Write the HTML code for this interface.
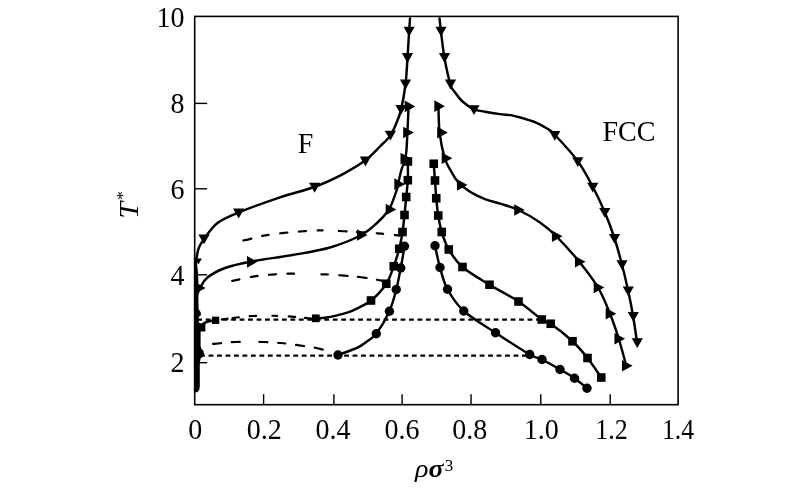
<!DOCTYPE html>
<html><head><meta charset="utf-8"><title>Phase diagram</title>
<style>
html,body{margin:0;padding:0;background:#fff;}
body{width:800px;height:493px;overflow:hidden;}
svg{display:block;will-change:transform;}
text{fill:#000;}
</style></head>
<body>
<svg width="800" height="493" viewBox="0 0 800 493">
<rect width="800" height="493" fill="#fff"/>
<rect x="194.7" y="16.4" width="483.4" height="388.3" fill="none" stroke="#000" stroke-width="1.6"/>
<line x1="194.7" y1="103.4" x2="207.2" y2="103.4" stroke="#000" stroke-width="1.4"/>
<line x1="194.7" y1="188.8" x2="207.2" y2="188.8" stroke="#000" stroke-width="1.4"/>
<line x1="194.7" y1="274.8" x2="207.2" y2="274.8" stroke="#000" stroke-width="1.4"/>
<line x1="194.7" y1="362.7" x2="207.2" y2="362.7" stroke="#000" stroke-width="1.4"/>
<line x1="263.6" y1="404.7" x2="263.6" y2="394.2" stroke="#000" stroke-width="1.4"/>
<line x1="333.9" y1="404.7" x2="333.9" y2="394.2" stroke="#000" stroke-width="1.4"/>
<line x1="402.1" y1="404.7" x2="402.1" y2="394.2" stroke="#000" stroke-width="1.4"/>
<line x1="471.05" y1="404.7" x2="471.05" y2="394.2" stroke="#000" stroke-width="1.4"/>
<line x1="540.75" y1="404.7" x2="540.75" y2="394.2" stroke="#000" stroke-width="1.4"/>
<line x1="610.2" y1="404.7" x2="610.2" y2="394.2" stroke="#000" stroke-width="1.4"/>
<line x1="197.25" y1="319.6" x2="540.5" y2="319.6" stroke="#000" stroke-width="2.2" stroke-dasharray="4.8 3.67"/>
<line x1="200.13" y1="355.6" x2="528" y2="355.6" stroke="#000" stroke-width="2.2" stroke-dasharray="4.8 3.67"/>
<path d="M243.40,240.42L243.42,240.41L244.74,240.20L246.21,239.93L247.80,239.60L249.50,239.18L251.32,238.68L251.40,238.66M262.20,235.96L262.46,235.92L265.31,235.41L268.30,234.90L268.60,234.85M280.20,233.27L280.49,233.23L284.60,232.80L287.40,232.53M298.90,231.54L299.67,231.48L305.18,231.08L306.10,231.02M317.70,230.43L318.22,230.42L322.60,230.36M338.80,230.96L339.31,230.99L343.46,231.24L346.60,231.41M356.90,231.98L357.15,231.99L362.43,232.31L364.10,232.41M376.70,233.27L377.44,233.33L381.68,233.68L383.10,233.80M394.90,235.07L395.17,235.10L398.23,235.46L399.60,235.62" fill="none" stroke="#000" stroke-width="2.2" stroke-linecap="round" stroke-linejoin="round"/>
<path d="M232.20,280.91L232.47,280.86L236.08,280.07L239.40,279.35M250.90,277.01L251.44,276.91L254.88,276.33L257.60,275.93M268.90,274.79L269.17,274.77L271.88,274.57L274.55,274.36L276.10,274.24M287.40,273.72L287.59,273.72L291.27,273.70L294.10,273.71M321.40,274.28L322.13,274.30L326.28,274.45L327.90,274.51M339.20,275.25L339.21,275.25L341.70,275.45L344.44,275.67L347.28,275.90L347.60,275.93M357.90,276.86L358.26,276.90L361.10,277.22L363.92,277.59L366.60,277.98M376.90,279.72L377.02,279.74L379.42,280.21L381.42,280.64L383.07,281.06L384.10,281.38" fill="none" stroke="#000" stroke-width="2.2" stroke-linecap="round" stroke-linejoin="round"/>
<path d="M221.90,319.41L222.13,319.38L223.72,319.17L225.25,318.97L226.73,318.77L227.60,318.65M232.60,317.99L232.78,317.97L234.65,317.75L236.71,317.52L238.90,317.27M249.70,316.20L250.12,316.17L253.00,316.00L256.08,315.88L256.10,315.88M272.40,315.76L272.46,315.76L275.48,315.81L277.10,315.85M288.70,316.46L288.74,316.46L291.18,316.64L293.69,316.83L295.10,316.95M304.90,317.89L305.10,317.91L307.12,318.11L308.79,318.28L310.14,318.41L311.10,318.50" fill="none" stroke="#000" stroke-width="2.2" stroke-linecap="round" stroke-linejoin="round"/>
<path d="M213.10,343.93L213.19,343.92L214.48,343.81L216.07,343.68L218.02,343.51L220.30,343.28L221.10,343.19M231.80,342.21L232.02,342.20L235.42,342.02L239.09,341.92L239.80,341.90M259.40,341.92L259.70,341.93L263.40,342.00L266.64,342.09L267.40,342.12M278.10,342.77L278.19,342.78L280.80,343.01L283.53,343.28L285.30,343.48M296.00,344.92L296.31,344.96L299.08,345.36L301.87,345.77L304.00,346.06M314.70,347.67L314.78,347.68L317.44,348.21L319.95,348.82L322.50,349.57L322.70,349.64" fill="none" stroke="#000" stroke-width="2.2" stroke-linecap="round" stroke-linejoin="round"/>
<path d="M410.00,18.50C409.85,20.70 409.52,25.12 409.10,31.70C408.68,38.28 408.10,49.20 407.50,58.00C406.90,66.80 406.58,75.85 405.50,84.50C404.42,93.15 402.58,103.32 401.00,109.90C399.42,116.48 397.77,119.72 396.00,124.00C394.23,128.28 393.07,131.85 390.40,135.60C387.73,139.35 384.23,142.33 380.00,146.50C375.77,150.67 371.25,155.97 365.00,160.60C358.75,165.23 350.96,169.90 342.50,174.30C334.04,178.70 324.67,183.17 314.25,187.00C303.83,190.83 292.67,193.03 280.00,197.30C267.33,201.57 248.67,208.32 238.25,212.60C227.83,216.88 223.16,218.67 217.50,223.00C211.84,227.33 207.50,234.22 204.30,238.60C201.10,242.98 199.72,244.90 198.30,249.30C196.88,253.70 196.22,262.38 195.80,265.00" fill="none" stroke="#000" stroke-width="2.45" stroke-linecap="round" stroke-linejoin="round"/>
<path d="M403.50,26.80L414.70,26.80L409.10,36.60Z" fill="#000"/>
<path d="M401.90,53.10L413.10,53.10L407.50,62.90Z" fill="#000"/>
<path d="M399.90,79.60L411.10,79.60L405.50,89.40Z" fill="#000"/>
<path d="M395.40,105.00L406.60,105.00L401.00,114.80Z" fill="#000"/>
<path d="M384.80,130.70L396.00,130.70L390.40,140.50Z" fill="#000"/>
<path d="M359.80,156.60L371.00,156.60L365.40,166.40Z" fill="#000"/>
<path d="M309.05,182.85L320.25,182.85L314.65,192.65Z" fill="#000"/>
<path d="M233.05,208.60L244.25,208.60L238.65,218.40Z" fill="#000"/>
<path d="M198.40,234.40L209.60,234.40L204.00,244.20Z" fill="#000"/>
<path d="M195.14,258.56L201.86,258.56L198.50,264.44Z" fill="#000"/>
<path d="M439.50,18.50C439.75,20.70 440.17,25.12 441.00,31.70C441.83,38.28 442.92,49.20 444.50,58.00C446.08,66.80 448.75,78.78 450.50,84.50C452.25,90.22 453.00,89.47 455.00,92.30C457.00,95.13 459.33,98.67 462.50,101.50C465.67,104.33 470.25,107.60 474.00,109.30C477.75,111.00 480.67,110.90 485.00,111.70C489.33,112.50 495.50,113.48 500.00,114.10C504.50,114.72 508.23,114.72 512.00,115.40C515.77,116.08 518.60,117.00 522.60,118.20C526.60,119.40 531.93,120.88 536.00,122.60C540.07,124.32 543.92,126.52 547.00,128.50C550.08,130.48 549.42,129.12 554.50,134.50C559.58,139.88 571.17,152.12 577.50,160.75C583.83,169.38 588.00,177.79 592.50,186.25C597.00,194.71 600.88,202.96 604.50,211.50C608.12,220.04 611.38,228.79 614.25,237.50C617.12,246.21 619.46,255.00 621.75,263.75C624.04,272.50 626.12,281.38 628.00,290.00C629.88,298.62 631.50,306.88 633.00,315.50C634.50,324.12 636.33,337.38 637.00,341.75" fill="none" stroke="#000" stroke-width="2.45" stroke-linecap="round" stroke-linejoin="round"/>
<path d="M435.40,26.80L446.60,26.80L441.00,36.60Z" fill="#000"/>
<path d="M438.90,53.10L450.10,53.10L444.50,62.90Z" fill="#000"/>
<path d="M444.90,79.60L456.10,79.60L450.50,89.40Z" fill="#000"/>
<path d="M468.40,105.30L479.60,105.30L474.00,115.10Z" fill="#000"/>
<path d="M549.20,131.00L560.40,131.00L554.80,140.80Z" fill="#000"/>
<path d="M572.20,157.25L583.40,157.25L577.80,167.05Z" fill="#000"/>
<path d="M587.20,182.75L598.40,182.75L592.80,192.55Z" fill="#000"/>
<path d="M599.20,208.00L610.40,208.00L604.80,217.80Z" fill="#000"/>
<path d="M608.95,234.00L620.15,234.00L614.55,243.80Z" fill="#000"/>
<path d="M616.45,260.25L627.65,260.25L622.05,270.05Z" fill="#000"/>
<path d="M622.70,286.50L633.90,286.50L628.30,296.30Z" fill="#000"/>
<path d="M627.70,312.00L638.90,312.00L633.30,321.80Z" fill="#000"/>
<path d="M631.70,338.25L642.90,338.25L637.30,348.05Z" fill="#000"/>
<path d="M408.60,106.40C408.40,110.75 407.78,124.90 407.40,132.50C407.02,140.10 406.78,147.25 406.30,152.00C405.82,156.75 405.32,158.00 404.50,161.00C403.68,164.00 402.43,166.38 401.40,170.00C400.37,173.62 399.03,179.53 398.30,182.70C397.57,185.87 397.95,185.85 397.00,189.00C396.05,192.15 394.10,197.93 392.60,201.60C391.10,205.27 390.52,207.52 388.00,211.00C385.48,214.48 381.96,218.50 377.50,222.50C373.04,226.50 369.17,230.83 361.25,235.00C353.33,239.17 341.46,244.17 330.00,247.50C318.54,250.83 305.62,252.67 292.50,255.00C279.38,257.33 262.50,259.33 251.25,261.50C240.00,263.67 232.29,265.33 225.00,268.00C217.71,270.67 211.62,274.25 207.50,277.50C203.38,280.75 202.13,284.42 200.30,287.50C198.47,290.58 197.13,294.58 196.50,296.00" fill="none" stroke="#000" stroke-width="2.45" stroke-linecap="round" stroke-linejoin="round"/>
<path d="M404.70,100.55L415.30,106.40L404.70,112.25Z" fill="#000"/>
<path d="M403.20,126.65L413.80,132.50L403.20,138.35Z" fill="#000"/>
<path d="M394.30,178.35L404.90,184.20L394.30,190.05Z" fill="#000"/>
<path d="M385.70,203.65L396.30,209.50L385.70,215.35Z" fill="#000"/>
<path d="M356.95,229.15L367.55,235.00L356.95,240.85Z" fill="#000"/>
<path d="M247.00,255.95L257.60,261.80L247.00,267.65Z" fill="#000"/>
<path d="M195.00,282.05L205.60,287.90L195.00,293.75Z" fill="#000"/>
<path d="M194.82,309.69L201.18,313.20L194.82,316.71Z" fill="#000"/>
<path d="M400.50,152.75L411.10,158.60L400.50,164.45Z" fill="#000"/>
<path d="M438.40,104.00C438.60,108.77 438.53,123.56 439.60,132.60C440.67,141.64 442.90,151.85 444.80,158.25C446.70,164.65 448.80,167.04 451.00,171.00C453.20,174.96 454.83,178.53 458.00,182.00C461.17,185.47 465.50,188.93 470.00,191.80C474.50,194.67 480.00,197.23 485.00,199.20C490.00,201.17 494.42,201.80 500.00,203.60C505.58,205.40 511.83,206.85 518.50,210.00C525.17,213.15 533.71,218.12 540.00,222.50C546.29,226.88 549.71,229.71 556.25,236.25C562.79,242.79 572.29,253.21 579.25,261.75C586.21,270.29 592.88,278.83 598.00,287.50C603.12,296.17 606.54,305.21 610.00,313.75C613.46,322.29 616.04,330.08 618.75,338.75C621.46,347.42 625.00,361.25 626.25,365.75" fill="none" stroke="#000" stroke-width="2.45" stroke-linecap="round" stroke-linejoin="round"/>
<path d="M434.30,100.35L444.90,106.20L434.30,112.05Z" fill="#000"/>
<path d="M437.20,126.75L447.80,132.60L437.20,138.45Z" fill="#000"/>
<path d="M441.70,152.40L452.30,158.25L441.70,164.10Z" fill="#000"/>
<path d="M456.95,179.15L467.55,185.00L456.95,190.85Z" fill="#000"/>
<path d="M514.20,204.15L524.80,210.00L514.20,215.85Z" fill="#000"/>
<path d="M551.95,230.40L562.55,236.25L551.95,242.10Z" fill="#000"/>
<path d="M574.95,255.90L585.55,261.75L574.95,267.60Z" fill="#000"/>
<path d="M593.70,281.65L604.30,287.50L593.70,293.35Z" fill="#000"/>
<path d="M605.70,307.90L616.30,313.75L605.70,319.60Z" fill="#000"/>
<path d="M614.45,332.90L625.05,338.75L614.45,344.60Z" fill="#000"/>
<path d="M621.95,359.90L632.55,365.75L621.95,371.60Z" fill="#000"/>
<path d="M407.90,161.50C407.88,164.62 408.08,174.28 407.80,180.20C407.52,186.12 406.75,191.20 406.20,197.00C405.65,202.80 405.12,209.17 404.50,215.00C403.88,220.83 403.38,226.38 402.50,232.00C401.62,237.62 400.71,243.04 399.25,248.75C397.79,254.46 395.92,260.42 393.75,266.25C391.58,272.08 390.04,278.04 386.25,283.75C382.46,289.46 376.71,295.99 371.00,300.50C365.29,305.01 357.83,308.28 352.00,310.80C346.17,313.32 340.50,314.43 336.00,315.60C331.50,316.77 328.29,317.33 325.00,317.80C321.71,318.27 317.71,318.30 316.25,318.40" fill="none" stroke="#000" stroke-width="2.45" stroke-linecap="round" stroke-linejoin="round"/>
<rect x="403.60" y="157.20" width="8.60" height="8.60" fill="#000"/>
<rect x="403.50" y="175.90" width="8.60" height="8.60" fill="#000"/>
<rect x="401.90" y="192.70" width="8.60" height="8.60" fill="#000"/>
<rect x="400.20" y="210.70" width="8.60" height="8.60" fill="#000"/>
<rect x="398.20" y="227.70" width="8.60" height="8.60" fill="#000"/>
<rect x="394.95" y="244.45" width="8.60" height="8.60" fill="#000"/>
<rect x="389.45" y="261.95" width="8.60" height="8.60" fill="#000"/>
<rect x="381.95" y="279.45" width="8.60" height="8.60" fill="#000"/>
<rect x="366.70" y="296.20" width="8.60" height="8.60" fill="#000"/>
<rect x="311.93" y="314.43" width="7.74" height="7.74" fill="#000"/>
<path d="M215.75,320.30C214.46,320.50 210.12,320.88 208.00,321.50C205.88,322.12 204.12,323.02 203.00,324.00C201.88,324.98 202.13,325.73 201.30,327.40C200.47,329.07 198.55,332.90 198.00,334.00" fill="none" stroke="#000" stroke-width="2.45" stroke-linecap="round" stroke-linejoin="round"/>
<rect x="211.94" y="316.65" width="7.31" height="7.31" fill="#000"/>
<rect x="197.22" y="323.31" width="8.17" height="8.17" fill="#000"/>
<path d="M433.75,163.75C433.96,166.54 434.58,174.75 435.00,180.50C435.42,186.25 435.71,192.42 436.25,198.25C436.79,204.08 437.33,209.88 438.25,215.50C439.17,221.12 440.00,226.33 441.75,232.00C443.50,237.67 445.29,243.67 448.75,249.50C452.21,255.33 455.71,261.12 462.50,267.00C469.29,272.88 480.17,279.00 489.50,284.75C498.83,290.50 509.79,295.71 518.50,301.50C527.21,307.29 536.38,315.79 541.75,319.50C547.12,323.21 545.62,320.12 550.75,323.75C555.88,327.38 566.38,335.54 572.50,341.25C578.62,346.96 582.71,351.96 587.50,358.00C592.29,364.04 598.96,374.25 601.25,377.50" fill="none" stroke="#000" stroke-width="2.45" stroke-linecap="round" stroke-linejoin="round"/>
<rect x="429.45" y="159.45" width="8.60" height="8.60" fill="#000"/>
<rect x="430.70" y="176.20" width="8.60" height="8.60" fill="#000"/>
<rect x="431.95" y="193.95" width="8.60" height="8.60" fill="#000"/>
<rect x="433.95" y="211.20" width="8.60" height="8.60" fill="#000"/>
<rect x="437.45" y="227.70" width="8.60" height="8.60" fill="#000"/>
<rect x="444.45" y="245.20" width="8.60" height="8.60" fill="#000"/>
<rect x="458.20" y="262.70" width="8.60" height="8.60" fill="#000"/>
<rect x="485.20" y="280.45" width="8.60" height="8.60" fill="#000"/>
<rect x="514.20" y="297.20" width="8.60" height="8.60" fill="#000"/>
<rect x="537.45" y="315.20" width="8.60" height="8.60" fill="#000"/>
<rect x="546.45" y="319.45" width="8.60" height="8.60" fill="#000"/>
<rect x="568.20" y="336.95" width="8.60" height="8.60" fill="#000"/>
<rect x="583.20" y="353.70" width="8.60" height="8.60" fill="#000"/>
<rect x="596.95" y="373.20" width="8.60" height="8.60" fill="#000"/>
<path d="M404.50,246.25C403.88,249.88 402.12,260.79 400.75,268.00C399.38,275.21 398.14,282.30 396.25,289.50C394.36,296.70 392.73,303.82 389.40,311.20C386.07,318.57 380.07,328.67 376.25,333.75C372.43,338.83 369.54,339.44 366.50,341.70C363.46,343.96 362.75,345.08 358.00,347.30C353.25,349.52 341.33,353.72 338.00,355.00" fill="none" stroke="#000" stroke-width="2.45" stroke-linecap="round" stroke-linejoin="round"/>
<circle cx="404.50" cy="246.25" r="4.70" fill="#000"/>
<circle cx="400.75" cy="268.00" r="4.70" fill="#000"/>
<circle cx="396.25" cy="289.50" r="4.70" fill="#000"/>
<circle cx="389.40" cy="311.20" r="4.70" fill="#000"/>
<circle cx="376.25" cy="333.75" r="4.70" fill="#000"/>
<circle cx="338.00" cy="355.00" r="4.70" fill="#000"/>
<path d="M435.00,245.75C435.83,249.38 437.92,260.25 440.00,267.50C442.08,274.75 443.54,282.00 447.50,289.25C451.46,296.50 455.75,303.76 463.75,311.00C471.75,318.24 484.51,325.45 495.50,332.70C506.49,339.95 521.95,350.03 529.70,354.50C537.45,358.97 536.95,357.00 542.00,359.50C547.05,362.00 554.58,366.38 560.00,369.50C565.42,372.62 570.00,375.12 574.50,378.25C579.00,381.38 584.92,386.58 587.00,388.25" fill="none" stroke="#000" stroke-width="2.45" stroke-linecap="round" stroke-linejoin="round"/>
<circle cx="435.00" cy="245.75" r="4.70" fill="#000"/>
<circle cx="440.00" cy="267.50" r="4.70" fill="#000"/>
<circle cx="447.50" cy="289.25" r="4.70" fill="#000"/>
<circle cx="463.75" cy="311.00" r="4.70" fill="#000"/>
<circle cx="495.50" cy="332.70" r="4.70" fill="#000"/>
<circle cx="529.70" cy="354.50" r="4.70" fill="#000"/>
<circle cx="542.00" cy="359.50" r="4.70" fill="#000"/>
<circle cx="560.00" cy="369.50" r="4.70" fill="#000"/>
<circle cx="574.50" cy="378.25" r="4.70" fill="#000"/>
<circle cx="587.00" cy="388.25" r="4.70" fill="#000"/>
<path d="M193.90,255.00L195.60,257.00L197.00,264.00L198.00,272.00L198.40,283.00L198.40,300.00L198.60,309.00L200.50,312.00L201.00,315.00L198.80,317.00L198.80,322.00L200.60,324.00L200.60,346.00L201.50,349.00L203.50,351.00L204.00,354.00L202.50,357.00L200.50,358.50L199.80,364.00L199.80,386.00L199.40,389.50L197.50,392.30L193.90,392.30Z" fill="#000"/>
<text transform="translate(184.6,27.0) scale(1,1.07)" font-family="Liberation Serif, serif" font-size="28" text-anchor="end">10</text>
<text transform="translate(184.6,113.0) scale(1,1.07)" font-family="Liberation Serif, serif" font-size="28" text-anchor="end">8</text>
<text transform="translate(184.6,198.6) scale(1,1.07)" font-family="Liberation Serif, serif" font-size="28" text-anchor="end">6</text>
<text transform="translate(184.6,285.0) scale(1,1.07)" font-family="Liberation Serif, serif" font-size="28" text-anchor="end">4</text>
<text transform="translate(184.6,371.6) scale(1,1.07)" font-family="Liberation Serif, serif" font-size="28" text-anchor="end">2</text>
<text transform="translate(195.2,438.6) scale(1,1.07)" font-family="Liberation Serif, serif" font-size="28" text-anchor="middle">0</text>
<text transform="translate(264.2,438.6) scale(1,1.07)" font-family="Liberation Serif, serif" font-size="28" text-anchor="middle">0.2</text>
<text transform="translate(333,438.6) scale(1,1.07)" font-family="Liberation Serif, serif" font-size="28" text-anchor="middle">0.4</text>
<text transform="translate(402,438.6) scale(1,1.07)" font-family="Liberation Serif, serif" font-size="28" text-anchor="middle">0.6</text>
<text transform="translate(469.8,438.6) scale(1,1.07)" font-family="Liberation Serif, serif" font-size="28" text-anchor="middle">0.8</text>
<text transform="translate(541.2,438.6) scale(1,1.07)" font-family="Liberation Serif, serif" font-size="28" text-anchor="middle">1.0</text>
<text transform="translate(611.4,438.6) scale(0.93,1.07)" font-family="Liberation Serif, serif" font-size="28" text-anchor="middle">1.2</text>
<text transform="translate(678.0,438.6) scale(0.92,1.07)" font-family="Liberation Serif, serif" font-size="28" text-anchor="middle">1.4</text>
<text transform="translate(297.8,153.3) scale(1,1.07)" font-family="Liberation Serif, serif" font-size="28">F</text>
<text transform="translate(602.5,141.3) scale(1,1.07)" font-family="Liberation Serif, serif" font-size="28">FCC</text>
<text transform="translate(415,477) scale(1,0.9)" font-family="Liberation Serif, serif" font-size="28" font-style="italic">ρ<tspan font-weight="bold">σ</tspan></text>
<text transform="translate(444.7,471.3) scale(1,1.04)" font-family="Liberation Serif, serif" font-size="17">3</text>
<text transform="translate(138.3,218.7) rotate(-90) scale(1.08,1)" font-family="Liberation Serif, serif" font-size="28" font-style="italic">T</text>
<text transform="translate(128.3,200.3) rotate(-90) scale(1.08,1)" font-family="Liberation Serif, serif" font-size="17">*</text>
</svg>
</body></html>
